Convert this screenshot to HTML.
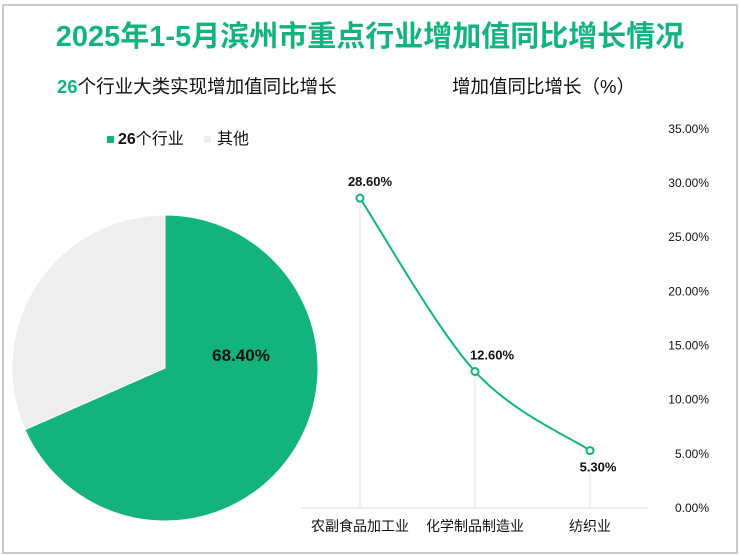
<!DOCTYPE html>
<html><head><meta charset="utf-8"><style>
body{margin:0;width:740px;height:555px;background:#fff;overflow:hidden;font-family:"Liberation Sans","Noto Sans CJK SC",sans-serif}
#frame{position:absolute;left:2px;top:4px;width:732px;height:546px;border:2px solid #c8c8c8}
.t{position:absolute;white-space:nowrap;line-height:1}
</style></head><body>
<div id="frame"></div>
<div class="t" style="left:0;width:740px;text-align:center;top:23px;font-size:29px;font-weight:bold;color:#13b380">2025年1-5月滨州市重点行业增加值同比增长情况</div>
<div class="t" style="left:57px;top:78px;font-size:18.5px;color:#111"><b style="color:#13b380">26</b>个行业大类实现增加值同比增长</div>
<div class="t" style="left:452px;top:78px;font-size:18.5px;color:#111">增加值同比增长（%）</div>
<div class="t" style="left:107px;top:132px;font-size:16px;color:#111"><span style="display:inline-block;width:7px;height:7px;background:#13b380;margin-right:4px;vertical-align:middle"></span><b>26</b>个行业</div>
<div class="t" style="left:204px;top:132px;font-size:16px;color:#111"><span style="display:inline-block;width:7px;height:7px;background:#eee;margin-right:6px;vertical-align:middle"></span>其他</div>
<svg id="svg" width="740" height="555" style="position:absolute;left:0;top:0"></svg>
<script>
const pieLabels=["26个行业","其他"];
const pieValues=[68.4,31.6];
const categories=["农副食品加工业","化学制品制造业","纺织业"];
const values=[28.6,12.6,5.3];
const ticks=[0,5,10,15,20,25,30,35];
const NS="http://www.w3.org/2000/svg";
const svg=document.getElementById("svg");
function mk(t,a){const e=document.createElementNS(NS,t);for(const k in a)e.setAttribute(k,a[k]);svg.appendChild(e);return e;}
const cx=165,cy=368,r=153;let ang=0;const tot=pieValues.reduce((a,b)=>a+b,0);
const cols=["#13b380","#eeeeee"];
pieValues.forEach((v,i)=>{const a0=ang,a1=ang+v/tot*2*Math.PI;ang=a1;
const x0=cx+r*Math.sin(a0),y0=cy-r*Math.cos(a0),x1=cx+r*Math.sin(a1),y1=cy-r*Math.cos(a1);
const p=mk("path",{d:`M${cx},${cy}L${x0},${y0}A${r},${r} 0 ${a1-a0>Math.PI?1:0} 1 ${x1},${y1}Z`,fill:cols[i],stroke:"#fff","stroke-width":1});

});
const pl=mk("text",{x:cx+76,y:cy-7,"font-size":17,"font-weight":"bold","text-anchor":"middle",fill:"#111"});pl.textContent=pieValues[0].toFixed(2)+"%";


const y0=508,pxPer=325/30;const Y=v=>y0-v*pxPer;const X=i=>360+i*115;
ticks.forEach(t=>{const e=mk("text",{x:709,y:Y(t)+4,"font-size":12,"text-anchor":"end",fill:"#111"});e.textContent=t.toFixed(2)+"%";

});
const ax=mk("line",{x1:302,x2:648,y1:y0,y2:y0,stroke:"#d9d9d9"});


categories.forEach((c,i)=>{const g=mk("line",{x1:X(i),x2:X(i),y1:Y(values[i]),y2:y0,stroke:"#e3e3e3"});


const e=mk("text",{x:X(i),y:531,"font-size":14,"text-anchor":"middle",fill:"#111"});e.textContent=c;

});
const P=values.map((v,i)=>[X(i),Y(v)]);
let d=`M${P[0][0]},${P[0][1]}`;
for(let i=0;i<P.length-1;i++){const p0=P[Math.max(0,i-1)],p1=P[i],p2=P[i+1],p3=P[Math.min(P.length-1,i+2)];
const c1=[p1[0]+(p2[0]-p0[0])/6,p1[1]+(p2[1]-p0[1])/6],c2=[p2[0]-(p3[0]-p1[0])/6,p2[1]-(p3[1]-p1[1])/6];
d+=`C${c1[0]},${c1[1]} ${c2[0]},${c2[1]} ${p2[0]},${p2[1]}`;}
const ln=mk("path",{d,fill:"none",stroke:"#13b380","stroke-width":2});


values.forEach((v,i)=>{const c=mk("circle",{cx:X(i),cy:Y(v),r:3.5,fill:"#fff",stroke:"#13b380","stroke-width":2});


const below=i===values.length-1;
const e=mk("text",{x:X(i)+(i===0?10:i===1?17:8),y:below?Y(v)+21:Y(v)-12,"font-size":13,"font-weight":"bold","text-anchor":"middle",fill:"#111"});e.textContent=v.toFixed(2)+"%";

});
</script>
</body></html>
